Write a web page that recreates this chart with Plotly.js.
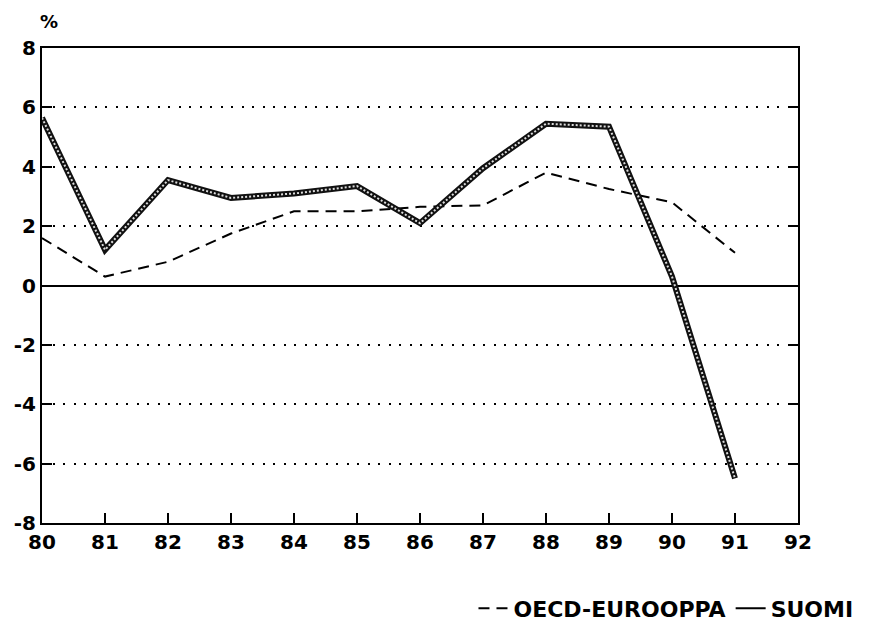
<!DOCTYPE html>
<html>
<head>
<meta charset="utf-8">
<script src="https://cdn.plot.ly/plotly-2.35.2.min.js"></script>
<style>html,body{margin:0;padding:0;background:#fff;}#chart{width:887px;height:626px;}</style>
</head>
<body>
<div id="chart"></div>
<script>
const years = [80, 81, 82, 83, 84, 85, 86, 87, 88, 89, 90, 91];
const oecdEurooppa = [1.6, 0.3, 0.8, 1.75, 2.5, 2.5, 2.65, 2.7, 3.8, 3.25, 2.8, 1.1];
const suomi = [5.65, 1.2, 3.55, 2.95, 3.1, 3.35, 2.1, 3.95, 5.45, 5.35, 0.3, -6.5];
const xTicks = [80, 81, 82, 83, 84, 85, 86, 87, 88, 89, 90, 91, 92];
const yTicks = [-8, -6, -4, -2, 0, 2, 4, 6, 8];

const fam = 'DejaVu Sans, Liberation Sans, Arial, sans-serif';
const font = {family: fam, size: 20, color: '#000', weight: 'bold'};

const traces = [
  {x: years, y: oecdEurooppa, type: 'scatter', mode: 'lines', name: 'OECD-EUROOPPA',
   line: {color: '#000', width: 2, dash: '11px,7px'}},
  {x: years, y: suomi, type: 'scatter', mode: 'lines', name: 'SUOMI', showlegend: false,
   line: {color: '#111', width: 6}},
  {x: years, y: suomi, type: 'scatter', mode: 'lines', name: 'SUOMI', showlegend: false,
   line: {color: '#ddd', width: 2, dash: '2px,2px'}},
  {x: [null], y: [null], type: 'scatter', mode: 'lines', name: 'SUOMI',
   line: {color: '#000', width: 2}}
];

const layout = {
  width: 887, height: 626,
  margin: {l: 42, r: 89, t: 48, b: 103, autoexpand: false},
  paper_bgcolor: '#fff', plot_bgcolor: '#fff',
  font: font,
  showlegend: true,
  legend: {orientation: 'h', x: 1.08, xanchor: 'right', y: -0.18, yanchor: 'middle',
           font: {family: fam, size: 22, color: '#000', weight: 'bold'},
           itemwidth: 30, tracegroupgap: 0, bgcolor: 'rgba(0,0,0,0)'},
  xaxis: {range: [80, 92], tickvals: xTicks, ticktext: xTicks.map(String),
          ticks: 'inside', ticklen: 10, tickwidth: 2, tickcolor: '#000',
          showline: true, linewidth: 2, linecolor: '#000', mirror: true,
          showgrid: false, zeroline: false, fixedrange: true,
          tickfont: font},
  yaxis: {range: [-8, 8], tickvals: yTicks, ticktext: yTicks.map(String),
          ticks: 'inside', ticklen: 10, tickwidth: 2, tickcolor: '#000',
          showline: true, linewidth: 2, linecolor: '#000', mirror: 'ticks',
          showgrid: true, gridcolor: '#000', gridwidth: 2, griddash: '2px,8.5px',
          zeroline: true, zerolinecolor: '#000', zerolinewidth: 2, fixedrange: true,
          tickfont: font},
  annotations: [
    {text: '%', xref: 'paper', yref: 'paper', x: 0, y: 1, xanchor: 'left', yanchor: 'bottom',
     yshift: 14, xshift: -4, showarrow: false, font: {family: fam, size: 18, color: '#000', weight: 'bold'}}
  ]
};

Plotly.newPlot('chart', traces, layout, {displayModeBar: false, staticPlot: true});
</script>
</body>
</html>
